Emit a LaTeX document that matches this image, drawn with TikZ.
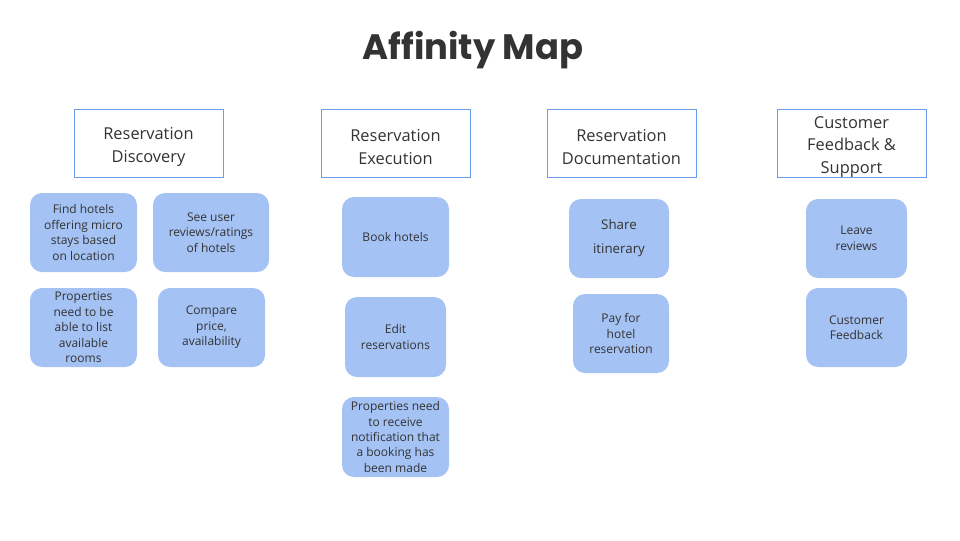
\documentclass[tikz,border=0pt]{standalone}
\usepackage{fontspec}
\setmainfont{Open Sans}
\newfontfamily\titlefont{Poppins}
\usetikzlibrary{positioning}

\definecolor{headblue}{RGB}{109,158,235}
\definecolor{stickyblue}{RGB}{164,194,244}
\definecolor{inkgrey}{RGB}{51,51,51}

\begin{document}
\begin{tikzpicture}[x=0.75pt,y=0.75pt,yscale=-1,
  header/.style={draw=headblue,line width=0.75pt,fill=white,
    minimum width=111.75pt,minimum height=51pt,inner sep=0pt,
    label={[headtext]center:#1}},
  headtext/.style={text=inkgrey,align=center,inner sep=0pt,yshift=-3pt,
    font=\fontsize{12.3}{16.8}\selectfont},
  sticky/.style={fill=stickyblue,rounded corners=9pt,text=inkgrey,
    inner sep=0pt,align=center,font=\fontsize{9}{11.6}\selectfont}]
%set diagram to the 960 x 540 page
\useasboundingbox (0,0) rectangle (960,540);

% Title
\node (title) [text=inkgrey,font=\titlefont\bfseries\fontsize{26.5}{30}\selectfont] at (473,50) {Affinity Map};

% Header boxes
\node (discovery) [header={Reservation\\Discovery}] at (148.5,143) {};
\node (execution) [header={Reservation\\Execution}] at (395.5,143) {};
\node (documentation) [header={Reservation\\Documentation}] at (621.5,143) {};
\node (support) [header={Customer\\Feedback \&\\Support}] at (851.5,143) {};

% Discovery stickies
\node (findhotels) [sticky,minimum width=80.25pt,minimum height=59.25pt] at (83.5,232.5) {Find hotels\\offering micro\\stays based\\on location};
\node (userreviews) [sticky,minimum width=87pt,minimum height=59.25pt] at (211,232.5) {See user\\reviews/ratings\\of hotels};
\node (listrooms) [sticky,minimum width=80.25pt,minimum height=59.25pt] at (83.5,327.5) {Properties\\need to be\\able to list\\available\\rooms};
\node (compare) [sticky,minimum width=80.25pt,minimum height=59.25pt] at (211.5,327.5) {Compare\\price,\\availability};

% Execution stickies
\node (book) [sticky,minimum width=80.25pt,minimum height=60pt] at (395.5,237) {Book hotels};
\node (edit) [sticky,minimum width=75.75pt,minimum height=60pt] at (395.5,337) {Edit\\reservations};
\node (notify) [sticky,minimum width=80.25pt,minimum height=60pt] at (395.5,437) {Properties need\\to receive\\notification that\\a booking has\\been made};

% Documentation stickies
\node (share) [sticky,minimum width=75pt,minimum height=59.25pt,font=\fontsize{10}{18}\selectfont] at (619,238.5) {Share\\itinerary};
\node (pay) [sticky,minimum width=72pt,minimum height=59.25pt] at (621,333.5) {Pay for\\hotel\\reservation};

% Support stickies
\node (leave) [sticky,minimum width=75.75pt,minimum height=59.25pt] at (856.5,238.5) {Leave\\reviews};
\node (feedback) [sticky,minimum width=75.75pt,minimum height=59.25pt] at (856.5,327.5) {Customer\\Feedback};

\end{tikzpicture}
\end{document}
